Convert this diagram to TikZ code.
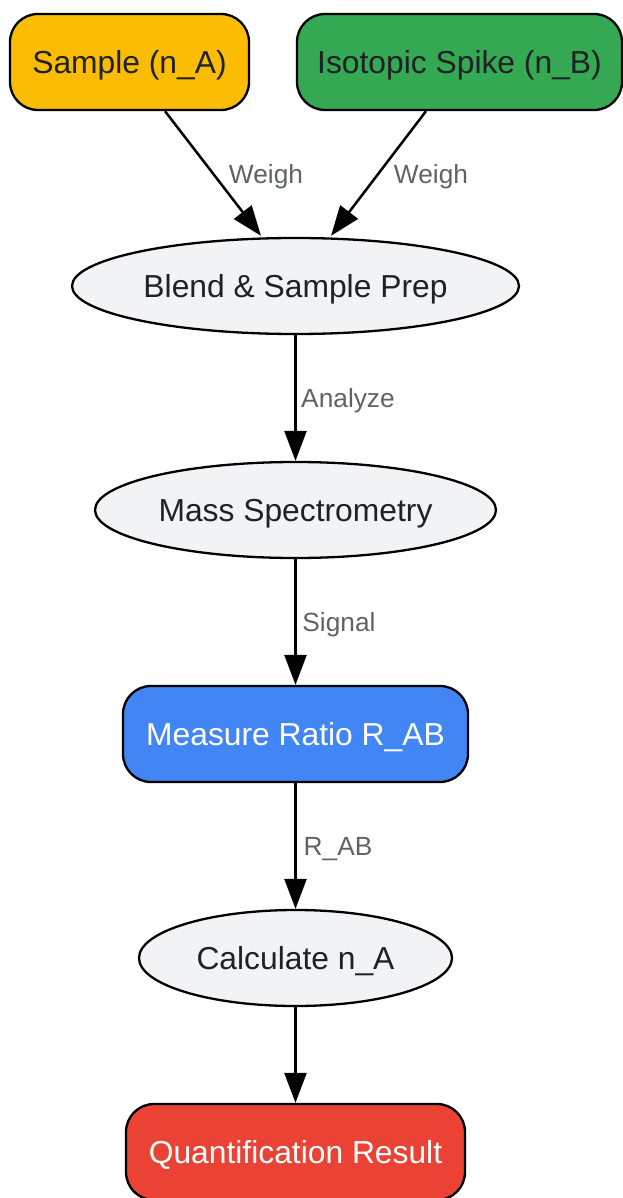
\documentclass[tikz,border=0pt]{standalone}
\usepackage{fontspec}
\setmainfont{Liberation Sans}
\usetikzlibrary{shapes.geometric,arrows.meta,calc}
\definecolor{cyellow}{HTML}{FBBC04}
\definecolor{cgreen}{HTML}{34A853}
\definecolor{cblue}{HTML}{4285F4}
\definecolor{cred}{HTML}{EA4335}
\definecolor{cgray}{HTML}{F1F3F4}
\definecolor{ctext}{HTML}{202124}
\definecolor{clabel}{HTML}{5F6368}
\tikzset{
  x=1pt,y=1pt,
  base/.style={draw=black,line width=2.3pt,inner sep=0pt,align=center,
    font=\fontsize{31.8}{36}\selectfont,text=ctext,minimum height=96pt,
    text height=22.8pt,text depth=0pt},
  rbox/.style={base,rectangle,rounded corners=28pt},
  ebox/.style={base,ellipse,fill=cgray},
  lbl/.style={font=\fontsize{26.3}{30}\selectfont,text=clabel,inner sep=0pt,
    text height=18.8pt,text depth=0pt},
  arr/.style={draw=black,line width=2.5pt,-{Triangle[length=30pt,width=22pt]}},
}
\begin{document}
\begin{tikzpicture}
\useasboundingbox (0,0) rectangle (623,-1198);
\node[rbox,fill=cyellow,minimum width=239pt] (sample) at (129.5,-62) {Sample (n\_A)};
\node[rbox,fill=cgreen,minimum width=325pt] (spike) at (459.5,-62) {Isotopic Spike (n\_B)};
\node[ebox,minimum width=447pt] (blend) at (295.5,-286) {Blend \& Sample Prep};
\node[ebox,minimum width=401pt] (mass) at (295.5,-510) {Mass Spectrometry};
\node[rbox,fill=cblue,text=white,minimum width=345pt] (ratio) at (295.5,-734) {Measure Ratio R\_AB};
\node[ebox,minimum width=313pt] (calc) at (295.5,-958) {Calculate n\_A};
\node[rbox,fill=cred,text=white,minimum width=339pt] (result) at (295.5,-1152) {Quantification Result};

\draw[arr] ([xshift=35.5pt]sample.south) -- ([xshift=-34.5pt,yshift=1pt]blend.north);
\draw[arr] ([xshift=-33.5pt]spike.south) -- ([xshift=35.5pt,yshift=1pt]blend.north);
\draw[arr] (blend.south) -- (mass.north);
\draw[arr] (mass.south) -- (ratio.north);
\draw[arr] (ratio.south) -- (calc.north);
\draw[arr] (calc.south) -- (result.north);

\node[lbl] (w1) at (266,-174) {Weigh};
\node[lbl] (w2) at (431,-174) {Weigh};
\node[lbl] (an) at (348,-398) {Analyze};
\node[lbl] (sg) at (339,-622) {Signal};
\node[lbl] (rab) at (338,-846) {R\_AB};
\end{tikzpicture}
\end{document}
